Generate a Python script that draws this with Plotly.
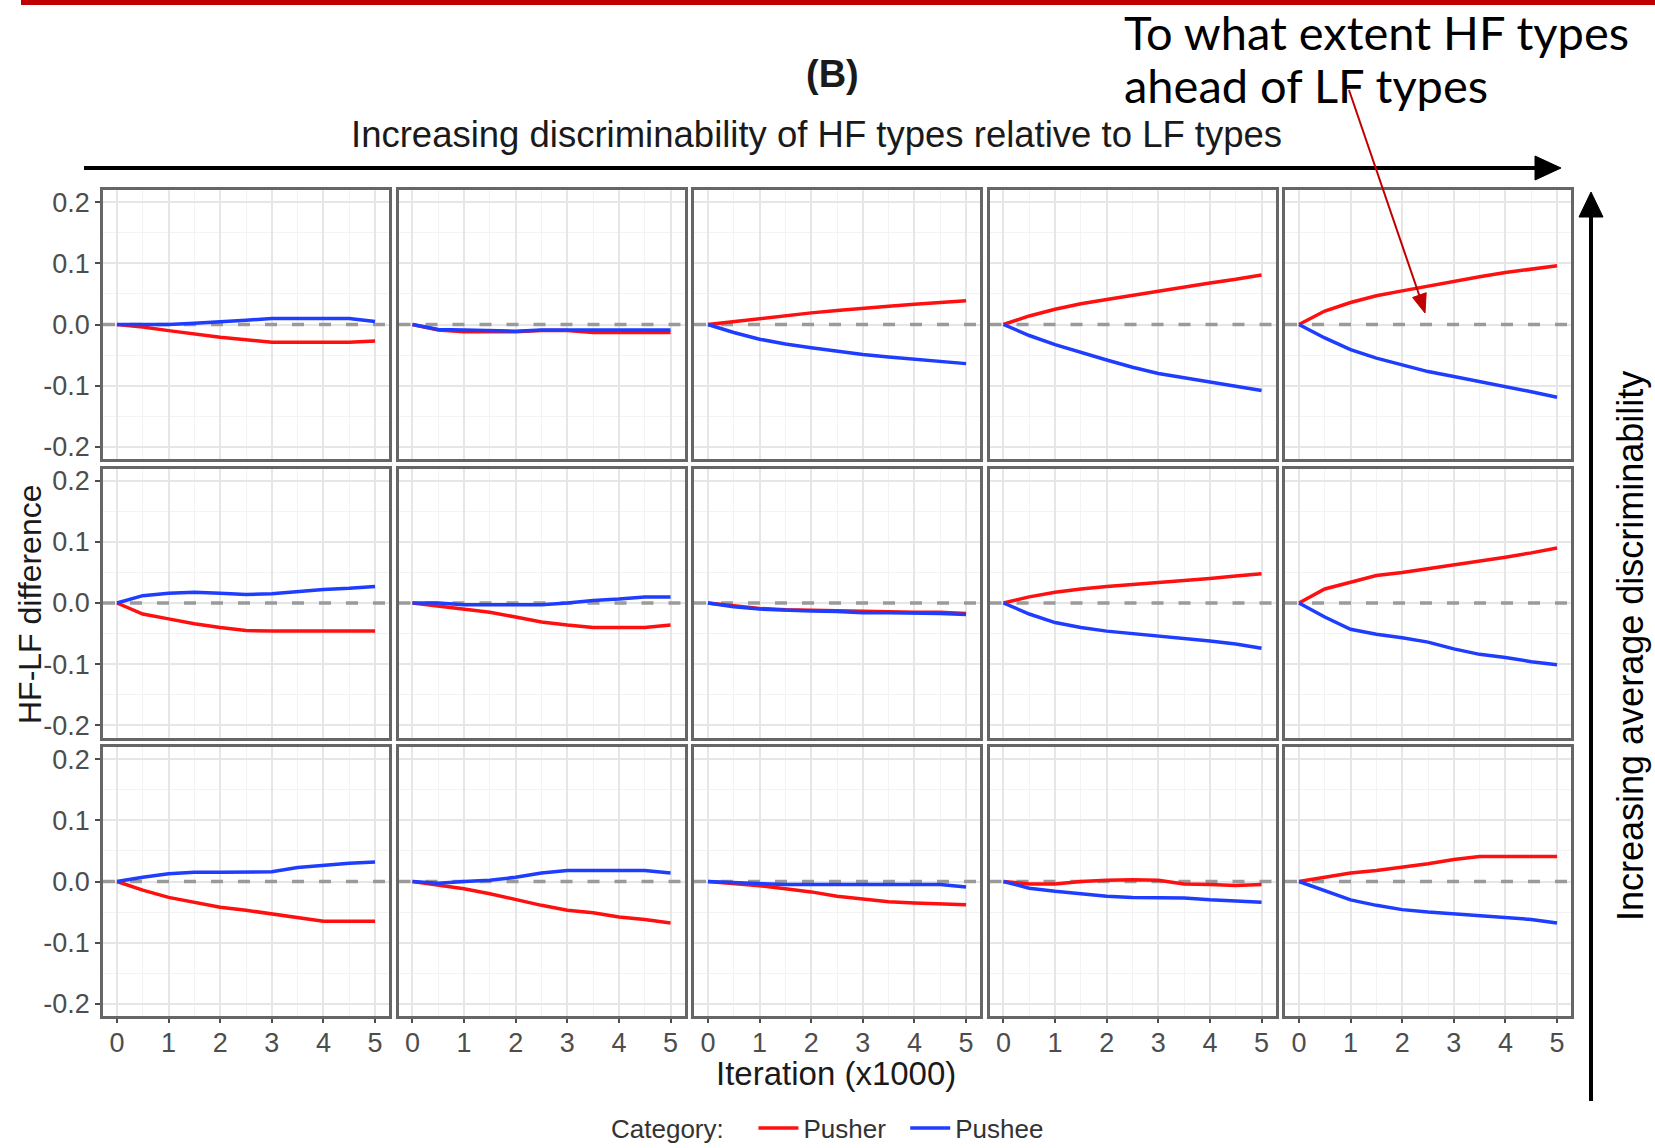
import plotly.graph_objects as go

W, H = 1655, 1148

# ---------------- data ----------------
iteration = [0, 0.5, 1, 1.5, 2, 2.5, 3, 3.5, 4, 4.5, 5]
x_range = [-0.27, 5.27]
y_range = [-0.22, 0.22]
zero_ref = [0, 0]
x_ticks = [0, 1, 2, 3, 4, 5]
y_ticks = [-0.2, -0.1, 0.0, 0.1, 0.2]
y_tick_labels = ["-0.2", "-0.1", "0.0", "0.1", "0.2"]

# row 1
pusher_r1c1 = [0, -0.004, -0.010, -0.016, -0.021, -0.025, -0.029, -0.029, -0.029, -0.029, -0.027]
pushee_r1c1 = [0, 0, 0, 0.002, 0.004, 0.007, 0.010, 0.010, 0.010, 0.010, 0.005]
pusher_r1c2 = [0, -0.009, -0.012, -0.012, -0.012, -0.010, -0.010, -0.013, -0.013, -0.013, -0.013]
pushee_r1c2 = [0, -0.008, -0.009, -0.010, -0.011, -0.009, -0.009, -0.008, -0.008, -0.008, -0.009]
pusher_r1c3 = [0, 0.005, 0.010, 0.015, 0.019, 0.023, 0.027, 0.030, 0.033, 0.036, 0.039]
pushee_r1c3 = [0, -0.013, -0.024, -0.032, -0.038, -0.044, -0.049, -0.053, -0.057, -0.061, -0.064]
pusher_r1c4 = [0, 0.014, 0.025, 0.034, 0.041, 0.048, 0.055, 0.061, 0.068, 0.074, 0.081]
pushee_r1c4 = [0, -0.018, -0.033, -0.046, -0.058, -0.070, -0.080, -0.087, -0.094, -0.101, -0.108]
pusher_r1c5 = [0, 0.022, 0.036, 0.047, 0.055, 0.063, 0.071, 0.078, 0.085, 0.091, 0.096]
pushee_r1c5 = [0, -0.022, -0.041, -0.055, -0.066, -0.077, -0.085, -0.093, -0.102, -0.110, -0.119]

# row 2
pusher_r2c1 = [0, -0.018, -0.026, -0.034, -0.040, -0.045, -0.046, -0.046, -0.046, -0.046, -0.046]
pushee_r2c1 = [0, 0.012, 0.016, 0.0175, 0.016, 0.014, 0.015, 0.019, 0.022, 0.024, 0.027]
pusher_r2c2 = [0, -0.005, -0.010, -0.015, -0.023, -0.031, -0.036, -0.040, -0.040, -0.040, -0.036]
pushee_r2c2 = [0, 0, -0.003, -0.003, -0.003, -0.003, 0, 0.004, 0.0065, 0.010, 0.010]
pusher_r2c3 = [0, -0.005, -0.009, -0.011, -0.012, -0.012, -0.013, -0.014, -0.015, -0.015, -0.017]
pushee_r2c3 = [0, -0.006, -0.010, -0.012, -0.013, -0.014, -0.016, -0.016, -0.016, -0.017, -0.019]
pusher_r2c4 = [0, 0.010, 0.0175, 0.023, 0.027, 0.030, 0.033, 0.037, 0.040, 0.044, 0.048]
pushee_r2c4 = [0, -0.018, -0.032, -0.040, -0.046, -0.050, -0.054, -0.057, -0.062, -0.067, -0.074]
pusher_r2c5 = [0, 0.023, 0.034, 0.045, 0.050, 0.056, 0.063, 0.069, 0.075, 0.082, 0.090]
pushee_r2c5 = [0, -0.023, -0.043, -0.051, -0.057, -0.064, -0.075, -0.084, -0.089, -0.096, -0.101]

# row 3
pusher_r3c1 = [0, -0.014, -0.026, -0.034, -0.042, -0.047, -0.053, -0.059, -0.065, -0.065, -0.065]
pushee_r3c1 = [0, 0.007, 0.0125, 0.015, 0.015, 0.015, 0.016, 0.023, 0.027, 0.030, 0.032]
pusher_r3c2 = [0, -0.0065, -0.012, -0.020, -0.030, -0.039, -0.047, -0.051, -0.058, -0.062, -0.068]
pushee_r3c2 = [0, -0.003, 0, 0.002, 0.007, 0.014, 0.018, 0.018, 0.018, 0.018, 0.014]
pusher_r3c3 = [0, -0.003, -0.007, -0.012, -0.017, -0.024, -0.029, -0.033, -0.035, -0.036, -0.038]
pushee_r3c3 = [0, -0.002, -0.003, -0.005, -0.005, -0.005, -0.005, -0.005, -0.005, -0.005, -0.009]
pusher_r3c4 = [0, -0.004, -0.004, 0, 0.002, 0.003, 0.002, -0.004, -0.005, -0.0065, -0.005]
pushee_r3c4 = [0, -0.011, -0.016, -0.020, -0.024, -0.026, -0.027, -0.027, -0.030, -0.032, -0.034]
pusher_r3c5 = [0, 0.007, 0.014, 0.018, 0.023, 0.029, 0.036, 0.041, 0.041, 0.041, 0.041]
pushee_r3c5 = [0, -0.015, -0.030, -0.039, -0.046, -0.050, -0.053, -0.055, -0.058, -0.062, -0.068]

pusher_rows = [
    [pusher_r1c1, pusher_r1c2, pusher_r1c3, pusher_r1c4, pusher_r1c5],
    [pusher_r2c1, pusher_r2c2, pusher_r2c3, pusher_r2c4, pusher_r2c5],
    [pusher_r3c1, pusher_r3c2, pusher_r3c3, pusher_r3c4, pusher_r3c5],
]
pushee_rows = [
    [pushee_r1c1, pushee_r1c2, pushee_r1c3, pushee_r1c4, pushee_r1c5],
    [pushee_r2c1, pushee_r2c2, pushee_r2c3, pushee_r2c4, pushee_r2c5],
    [pushee_r3c1, pushee_r3c2, pushee_r3c3, pushee_r3c4, pushee_r3c5],
]

# ---------------- layout helpers ----------------
def px_x(p):
    return p / W

def px_y(p):
    return 1 - p / H

col_left = [103, 398.5, 694, 989.5, 1285]
col_w = 286
row_top = [190, 468.5, 747]
row_h = 269

FONT = "Liberation Sans, Arial, sans-serif"
RED = "#ff1010"
BLUE = "#1f3dff"
BORDER = "#666666"
GRID = "#e6e6e6"
MINOR = "#f3f3f3"
TICKC = "#4d4d4d"

fig = go.Figure()
layout = {}
shapes = []

for r in range(3):
    for c in range(5):
        k = r * 5 + c + 1
        xs = "x" if k == 1 else f"x{k}"
        ys = "y" if k == 1 else f"y{k}"
        xa = "xaxis" if k == 1 else f"xaxis{k}"
        ya = "yaxis" if k == 1 else f"yaxis{k}"
        layout[xa] = dict(
            domain=[px_x(col_left[c]), px_x(col_left[c] + col_w)],
            anchor=ys, range=x_range,
            tickvals=x_ticks, ticktext=[str(t) for t in x_ticks],
            showticklabels=(r == 2), ticks="outside" if r == 2 else "",
            ticklen=4, tickwidth=1.5, tickcolor=TICKC, ticklabelstandoff=-3,
            tickfont=dict(size=27, color=TICKC, family=FONT),
            showgrid=True, gridcolor=GRID, gridwidth=1.6, zeroline=False,
            minor=dict(dtick=0.5, showgrid=True, gridcolor=MINOR, gridwidth=1),
            showline=True, mirror=True, linecolor=BORDER, linewidth=2.5,
        )
        layout[ya] = dict(
            domain=[px_y(row_top[r] + row_h), px_y(row_top[r])],
            anchor=xs, range=y_range,
            tickvals=y_ticks, ticktext=y_tick_labels,
            showticklabels=(c == 0), ticks="outside" if c == 0 else "",
            ticklen=5, tickwidth=1.5, tickcolor=TICKC,
            tickfont=dict(size=27, color=TICKC, family=FONT),
            showgrid=True, gridcolor=GRID, gridwidth=1.6, zeroline=False,
            minor=dict(dtick=0.05, showgrid=True, gridcolor=MINOR, gridwidth=1),
            showline=True, mirror=True, linecolor=BORDER, linewidth=2.5,
        )
        # dashed zero reference line (drawn first so the data lie on top)
        fig.add_trace(go.Scatter(x=x_range, y=zero_ref, mode="lines",
                                 line=dict(color="#9a9a9a", width=3.5, dash="12px,15px"),
                                 showlegend=False, hoverinfo="skip",
                                 xaxis=xs, yaxis=ys))
        fig.add_trace(go.Scatter(x=iteration, y=pusher_rows[r][c], mode="lines",
                                 line=dict(color=RED, width=3.5), name="Pusher  ",
                                 legendgroup="Pusher", showlegend=(k == 1),
                                 xaxis=xs, yaxis=ys))
        fig.add_trace(go.Scatter(x=iteration, y=pushee_rows[r][c], mode="lines",
                                 line=dict(color=BLUE, width=3.5), name="Pushee",
                                 legendgroup="Pushee", showlegend=(k == 1),
                                 xaxis=xs, yaxis=ys))

# top red bar
shapes.append(dict(type="rect", xref="paper", yref="paper",
                   x0=px_x(21), x1=1, y0=px_y(5), y1=1,
                   line=dict(width=0), fillcolor="#c00000"))
# horizontal black arrow
shapes.append(dict(type="line", xref="paper", yref="paper",
                   x0=px_x(84), x1=px_x(1540), y0=px_y(168), y1=px_y(168),
                   line=dict(color="black", width=4)))
shapes.append(dict(type="path", xref="paper", yref="paper",
                   path=f"M {px_x(1535)} {px_y(156)} L {px_x(1561)} {px_y(168)} L {px_x(1535)} {px_y(180)} Z",
                   fillcolor="black", line=dict(color="black", width=1)))
# vertical black arrow
shapes.append(dict(type="line", xref="paper", yref="paper",
                   x0=px_x(1591), x1=px_x(1591), y0=px_y(1101), y1=px_y(212),
                   line=dict(color="black", width=4)))
shapes.append(dict(type="path", xref="paper", yref="paper",
                   path=f"M {px_x(1579)} {px_y(217)} L {px_x(1591)} {px_y(192)} L {px_x(1603)} {px_y(217)} Z",
                   fillcolor="black", line=dict(color="black", width=1)))
# red annotation arrow
shapes.append(dict(type="line", xref="paper", yref="paper",
                   x0=px_x(1349), y0=px_y(90), x1=px_x(1419.5), y1=px_y(296),
                   line=dict(color="#c00000", width=2)))
shapes.append(dict(type="path", xref="paper", yref="paper",
                   path=f"M {px_x(1412.6)} {px_y(297.5)} L {px_x(1425)} {px_y(313)} L {px_x(1426.2)} {px_y(292.7)} Z",
                   fillcolor="#c00000", line=dict(color="#c00000", width=1)))

def ann(text, x, y, size, color="#1a1a1a", family=FONT, xanchor="center", angle=0):
    return dict(text=text, x=px_x(x), y=px_y(y), xref="paper", yref="paper",
                xanchor=xanchor, yanchor="middle", textangle=angle, showarrow=False,
                font=dict(size=size, color=color, family=family))

annotations = [
    ann("<b>(B)</b>", 832, 74, 38),
    ann("Increasing discriminability of HF types relative to LF types", 816, 134, 36.5),
    ann("To what extent HF types", 1122, 32, 47, color="black", family="Lato", xanchor="left"),
    ann("ahead of LF types", 1122, 85, 47, color="black", family="Lato", xanchor="left"),
    ann("Increasing average discriminability", 1630, 646, 36, color="black", angle=-90),
    ann("HF-LF difference", 30, 604, 32, angle=-90),
    ann("Iteration (x1000)", 836, 1073, 33),
]

fig.update_layout(
    width=W, height=H,
    margin=dict(l=0, r=0, t=0, b=0, autoexpand=False),
    paper_bgcolor="white", plot_bgcolor="white",
    font=dict(family=FONT, color=TICKC),
    shapes=shapes, annotations=annotations,
    showlegend=True,
    legend=dict(orientation="h", x=px_x(609), y=px_y(1128), xanchor="left", yanchor="middle",
                title=dict(text="Category:   ", font=dict(size=26, color="#333333", family=FONT)),
                font=dict(size=26, color="#333333", family=FONT),
                bgcolor="rgba(0,0,0,0)", itemwidth=40, tracegroupgap=0),
    **layout,
)

fig.write_html("out.html", config={"displayModeBar": False},
               post_script="document.body.style.margin='0px';document.body.style.padding='0px';")
